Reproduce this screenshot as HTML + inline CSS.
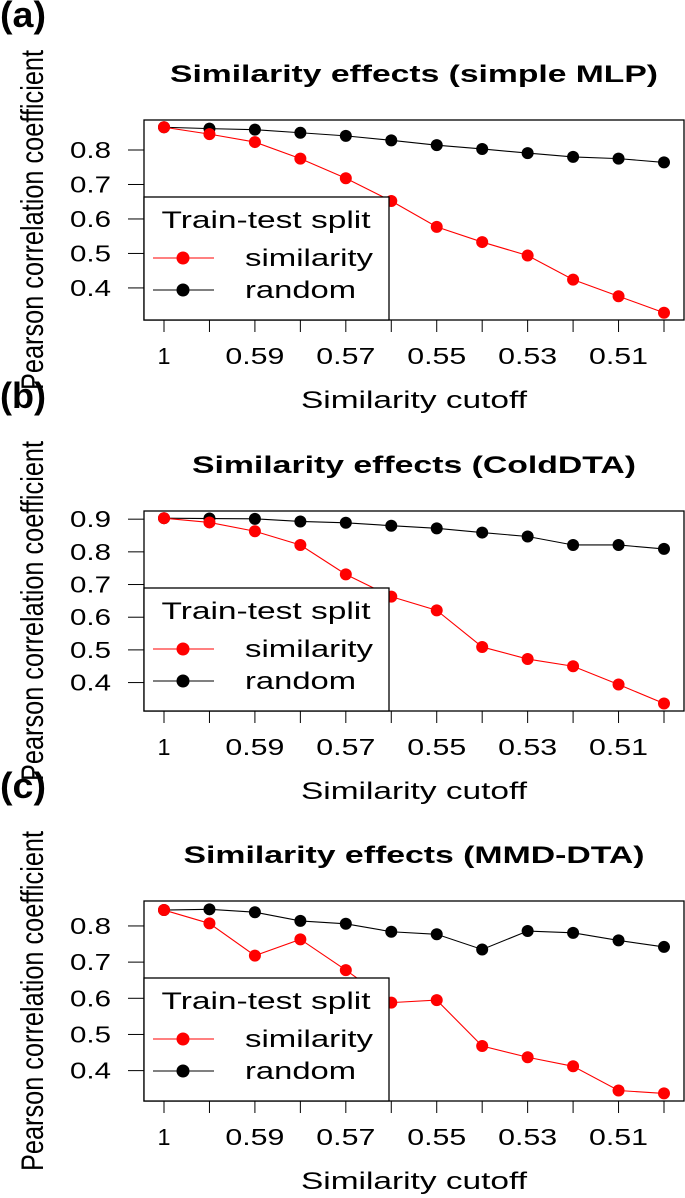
<!DOCTYPE html>
<html><head><meta charset="utf-8">
<style>
html,body{margin:0;padding:0;background:#fff;}
svg{display:block;font-family:"Liberation Sans",Arial,sans-serif;}
</style></head>
<body>
<svg id="fig" width="685" height="1198" viewBox="0 0 685 1198" xmlns="http://www.w3.org/2000/svg"></svg>
<script>
const categories = ["1","0.6","0.59","0.58","0.57","0.56","0.55","0.54","0.53","0.52","0.51","0.5"];
const tickLabelsX = ["1","","0.59","","0.57","","0.55","","0.53","","0.51",""];
const titles = ["Similarity effects (simple MLP)","Similarity effects (ColdDTA)","Similarity effects (MMD-DTA)"];
const panelLetters = ["(a)","(b)","(c)"];
const simA = [0.866,0.846,0.823,0.775,0.718,0.652,0.577,0.533,0.494,0.424,0.376,0.328];
const rndA = [0.866,0.862,0.859,0.850,0.841,0.828,0.814,0.803,0.791,0.780,0.775,0.764];
const simB = [0.903,0.890,0.863,0.821,0.731,0.663,0.621,0.509,0.472,0.450,0.394,0.336];
const rndB = [0.903,0.902,0.901,0.893,0.889,0.880,0.872,0.859,0.847,0.821,0.821,0.809];
const simC = [0.844,0.807,0.718,0.763,0.678,0.588,0.595,0.468,0.437,0.412,0.345,0.337];
const rndC = [0.844,0.846,0.838,0.814,0.806,0.784,0.777,0.735,0.786,0.781,0.760,0.742];
const yTicksA = [0.4,0.5,0.6,0.7,0.8];
const yTicksB = [0.4,0.5,0.6,0.7,0.8,0.9];
const yTicksC = [0.4,0.5,0.6,0.7,0.8];
const yRanges = [[0.307,0.887],[0.313,0.925],[0.316,0.869]];

const NS="http://www.w3.org/2000/svg";
const svg=document.getElementById('fig');
function mk(tag,attrs,parent){const e=document.createElementNS(NS,tag);for(const k in attrs)e.setAttribute(k,attrs[k]);(parent||svg).appendChild(e);return e;}

const panels=[{sim:simA,rnd:rndA,ticks:yTicksA},{sim:simB,rnd:rndB,ticks:yTicksB},{sim:simC,rnd:rndC,ticks:yTicksC}];
const offsets=[0,391,781];
const titleLens=[488,444,461];
const boxL=144, boxR=684, x0=164, x1=664;

panels.forEach((p,i)=>{
  const off=offsets[i];
  const top=120+off, bot=320+off;
  const [ymin,ymax]=yRanges[i];
  const xs=k=>x0+k*(x1-x0)/(categories.length-1);
  const ys=v=>top+(ymax-v)/(ymax-ymin)*(bot-top);
  const g=mk('g',{});
  
  

  const lt=mk('text',{x:0,y:(i==0?27:off+17),'font-size':36,'font-weight':'bold',textLength:46,lengthAdjust:'spacingAndGlyphs'},g);
  lt.textContent=panelLetters[i];
  
  

  const tt=mk('text',{x:414,y:82+off,'font-size':24,'font-weight':'bold','text-anchor':'middle',textLength:titleLens[i],lengthAdjust:'spacingAndGlyphs'},g);
  tt.textContent=titles[i];
  
  

  const yl=mk('text',{transform:`translate(43,${220+off}) rotate(-90) scale(1,1.45)`,'font-size':22,'text-anchor':'middle',textLength:340,lengthAdjust:'spacingAndGlyphs'},g);
  yl.textContent='Pearson correlation coefficient';
  
  

  const xl=mk('text',{x:414,y:408+off,'font-size':24,'text-anchor':'middle',textLength:226,lengthAdjust:'spacingAndGlyphs'},g);
  xl.textContent='Similarity cutoff';
  
  

  p.ticks.forEach(t=>{
    const y=ys(t);
    mk('line',{x1:128,x2:boxL,y1:y,y2:y,stroke:'#000','stroke-width':1},g);
    const tl=mk('text',{x:111,y:y+8,'font-size':23,'text-anchor':'end',textLength:41,lengthAdjust:'spacingAndGlyphs'},g);
    tl.textContent=t.toFixed(1);
    
    
  });
  categories.forEach((c,k)=>{
    const x=xs(k);
    mk('line',{x1:x,x2:x,y1:bot,y2:bot+12,stroke:'#000','stroke-width':1},g);
    if(tickLabelsX[k]){
      const len=tickLabelsX[k].length>1?59:13;
      const tl=mk('text',{x:x,y:364+off,'font-size':23,'text-anchor':'middle',textLength:len,lengthAdjust:'spacingAndGlyphs'},g);
      tl.textContent=tickLabelsX[k];
      
      
    }
  });

  const box=mk('rect',{x:boxL,y:top,width:boxR-boxL,height:bot-top,fill:'none',stroke:'#000','stroke-width':1.3},g);
  
  

  [[p.rnd,'#000','random'],[p.sim,'#ff0000','similarity']].forEach(([arr,col,nm])=>{
    const pts=arr.map((v,k)=>xs(k)+','+ys(v)).join(' ');
    const pl=mk('polyline',{points:pts,fill:'none',stroke:col,'stroke-width':1.1},g);
    
    
    arr.forEach((v,k)=>{
      const c=mk('circle',{cx:xs(k),cy:ys(v),r:6,fill:col},g);
      
      
    });
  });

  const lg=mk('g',{},g);
  
  
  const lt0=top+77;
  mk('rect',{x:boxL,y:lt0,width:245,height:bot-lt0,fill:'#fff',stroke:'#000','stroke-width':1.3},lg);
  const lh=mk('text',{x:266,y:lt0+31,'font-size':24,'text-anchor':'middle',textLength:209,lengthAdjust:'spacingAndGlyphs'},lg);
  lh.textContent='Train-test split';
  
  
  [['similarity','#ff0000',lt0+61,128],['random','#000',lt0+93,111]].forEach(([nm,col,y,len])=>{
    mk('line',{x1:153,x2:214,y1:y,y2:y,stroke:col,'stroke-width':1.1},lg);
    mk('circle',{cx:183,cy:y,r:6.5,fill:col},lg);
    const t=mk('text',{x:245,y:y+8,'font-size':24,textLength:len,lengthAdjust:'spacingAndGlyphs'},lg);
    t.textContent=nm;
    
    
  });
});
</script>
</body></html>
